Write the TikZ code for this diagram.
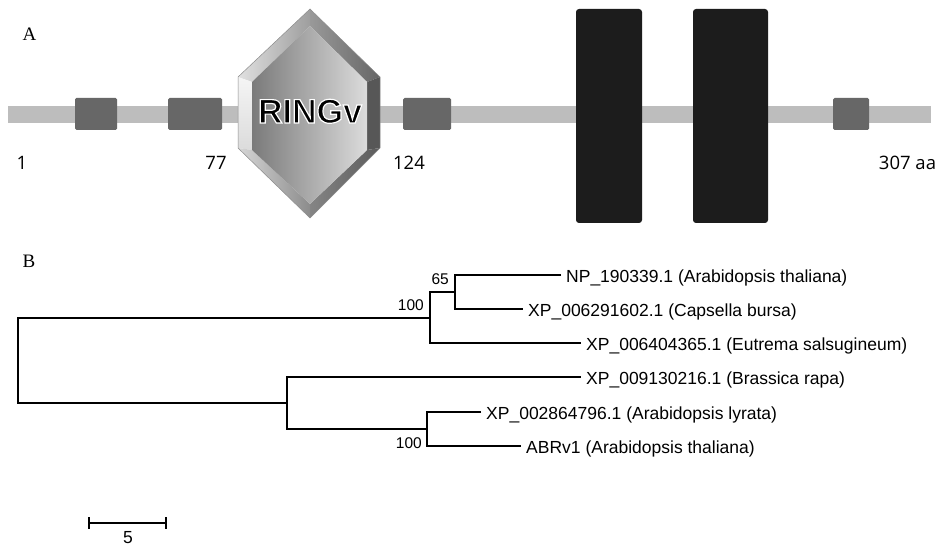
\documentclass[tikz,border=0pt]{standalone}
\usepackage{fontspec}
\setmainfont{Liberation Serif}
\newfontfamily\arialf{Liberation Sans}
\newfontfamily\osans{Open Sans}
\usetikzlibrary{calc}
\definecolor{barg}{HTML}{BDBDBD}
\definecolor{boxg}{HTML}{676767}
\definecolor{blk}{HTML}{1C1C1C}
\newcommand{\outlinedtext}[1]{\special{pdf:literal direct 2 Tr 1.2 w 1 1 1 RG}#1\special{pdf:literal direct 0 Tr 0 0 0 RG}}
\begin{document}
\begin{tikzpicture}[x=1pt,y=-1pt,
  smallbox/.style={fill=boxg, rounded corners=1.5pt, inner sep=0pt, minimum height=32pt},
  tmbox/.style={fill=blk, rounded corners=3pt, inner sep=0pt, minimum height=214pt},
  aapos/.style={font=\osans\fontsize{18.5}{22}\selectfont, anchor=base, inner sep=0pt},
  leaf/.style={font=\arialf\fontsize{17.5}{20}\selectfont, anchor=west, inner xsep=5pt, inner ysep=0pt, text height=14pt, text depth=0pt},
  boot/.style={font=\arialf\fontsize{15.5}{18}\selectfont, anchor=east, inner sep=0pt},
  branch/.style={line width=1.2pt, black},
  panel/.style={font=\fontsize{19}{21}\selectfont, anchor=base, inner sep=0pt},
  ringtxt/.style={font=\arialf\bfseries\fontsize{34}{36}\selectfont, anchor=base, inner sep=0pt}]
\useasboundingbox (0,0) rectangle (941,545);
\fill[white] (0,0) rectangle (941,545);

% ---------- Panel A ----------
\node[panel] (labA) at (29.5,41) {A};
\node[fill=barg, inner sep=0pt, minimum width=923pt, minimum height=17pt] (bar) at (469.5,114.5) {};
\node[smallbox, minimum width=42pt] (d1) at (96,114) {};
\node[smallbox, minimum width=54pt] (d2) at (195,114) {};
\node[smallbox, minimum width=48pt] (d3) at (427,114) {};
\node[smallbox, minimum width=36pt] (d4) at (851,114) {};
\node[tmbox, minimum width=66pt] (t1) at (609,116) {};
\node[tmbox, minimum width=75pt] (t2) at (730.5,116) {};

% hexagon RINGv
\coordinate (oT) at (310,9);   \coordinate (oUR) at (380,77);
\coordinate (oLR) at (380,148); \coordinate (oB) at (310,218);
\coordinate (oLL) at (238,148); \coordinate (oUL) at (238,77);
\coordinate (iT) at (310,26);   \coordinate (iUR) at (367,82);
\coordinate (iLR) at (367,150); \coordinate (iB) at (310,204);
\coordinate (iLL) at (252,150); \coordinate (iUL) at (252,82);
\shade[left color=black!12, right color=black!38] (oT)--(oUL)--(iUL)--(iT)--cycle;
\shade[top color=black!4, bottom color=black!14] (oUL)--(oLL)--(iLL)--(iUL)--cycle;
\shade[left color=black!16, right color=black!45] (oLL)--(oB)--(iB)--(iLL)--cycle;
\shade[left color=black!40, right color=black!60] (oT)--(oUR)--(iUR)--(iT)--cycle;
\fill[black!66] (oUR)--(oLR)--(iLR)--(iUR)--cycle;
\shade[left color=black!48, right color=black!64] (oLR)--(oB)--(iB)--(iLR)--cycle;
\shade[left color=black!52, right color=black!14] (iT)--(iUR)--(iLR)--(iB)--(iLL)--(iUL)--cycle;
\draw[black!45, line width=0.5pt] (oT)--(oUR)--(oLR)--(oB)--(oLL)--(oUL)--cycle;
\node[ringtxt, black] (ring) at (310,123) {\outlinedtext{RINGv}};

\node[aapos] (p1) at (22,169.5) {1};
\node[aapos] (p77) at (216,169.5) {77};
\node[aapos] (p124) at (409,169.5) {124};
\node[aapos] (p307) at (907.5,169.5) {307 aa};

% ---------- Panel B ----------
\node[panel] (labB) at (29,267) {B};
\coordinate (R) at (18,360.5);
\coordinate (U) at (430,318);
\coordinate (N65) at (455,292);
\coordinate (L) at (287,403);
\coordinate (N100) at (427,429);
\node[leaf] (l1) at (561,275) {NP\_190339.1 (Arabidopsis thaliana)};
\node[leaf] (l2) at (523,309) {XP\_006291602.1 (Capsella bursa)};
\node[leaf] (l3) at (581,343) {XP\_006404365.1 (Eutrema salsugineum)};
\node[leaf] (l4) at (581,377) {XP\_009130216.1 (Brassica rapa)};
\node[leaf] (l5) at (481,412) {XP\_002864796.1 (Arabidopsis lyrata)};
\node[leaf] (l6) at (521,446) {ABRv1 (Arabidopsis thaliana)};
\draw[branch] (l1.west) -| (N65) |- (l2.west);
\draw[branch] (N65) -| (U);
\draw[branch] (U) |- (l3.west);
\draw[branch] (U) -| (R) |- (L);
\draw[branch] (L) |- (l4.west);
\draw[branch] (L) |- (N100);
\draw[branch] (l5.west) -| (N100) |- (l6.west);
\node[boot] (b65) at (449,279) {65};
\node[boot] (b100a) at (424,305) {100};
\node[boot] (b100b) at (422,443) {100};

% scale bar
\coordinate (s1) at (89,523);
\coordinate (s2) at (166,523);
\draw[branch] (s1) -- (s2);
\draw[branch] ($(s1)+(0,-6)$) -- ($(s1)+(0,6)$);
\draw[branch] ($(s2)+(0,-6)$) -- ($(s2)+(0,6)$);
\node[font=\arialf\fontsize{17.5}{20}\selectfont, anchor=base, inner sep=0pt] (sc) at (128,543) {5};
\end{tikzpicture}
\end{document}
